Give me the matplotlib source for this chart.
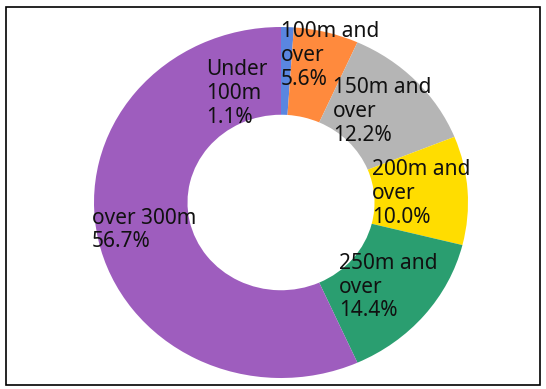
import matplotlib
matplotlib.use("Agg")
import matplotlib.pyplot as plt
import numpy as np
from matplotlib.patches import Rectangle

categories = ["Under\n100m", "100m and\nover", "150m and\nover", "200m and\nover", "250m and\nover", "over 300m"]
values = [1.1, 5.6, 12.2, 10.0, 14.4, 56.7]
colors = ["#5A86E0", "#FF8A3D", "#B5B5B5", "#FFDD00", "#2A9E70", "#9E5DBE"]
# label nudges (data units) for crowded small slices
label_dx = [-0.26, 0.08, 0, 0, 0, 0]
label_dy = [-0.13, 0.11, 0, 0, 0, 0]

plt.rcParams['font.family'] = ['Noto Sans', 'DejaVu Sans']

fig = plt.figure(figsize=(5.46, 3.89), dpi=100)
fig.patch.set_facecolor("white")
fig.add_artist(Rectangle((6/546, 4/389), (540-6)/546, (382-4)/389, transform=fig.transFigure,
                         fill=False, edgecolor="black", linewidth=1.2))

ax = fig.add_axes([94/546, 11/389, 374/546, 351/389])
wedges, _ = ax.pie(values, colors=colors, startangle=90, counterclock=False, radius=1.0,
                   wedgeprops=dict(width=0.5, edgecolor="none"))
ax.set_aspect("auto")
ax.set_xlim(-1, 1)
ax.set_ylim(-1, 1)
ax.axis("off")

total = sum(values)
cum = 0
for i, (cat, v) in enumerate(zip(categories, values)):
    mid = 90 - 360 * (cum + v / 2) / total
    cum += v
    r = 0.75
    x = r * np.cos(np.radians(mid)) + label_dx[i]
    y = r * np.sin(np.radians(mid)) + label_dy[i]
    ax.text(x, y, f"{cat}\n{v:.1f}%", ha="center", va="center", multialignment="left",
            fontsize=15, color="#111111", linespacing=1.18)

fig.savefig("out.png", dpi=100)
